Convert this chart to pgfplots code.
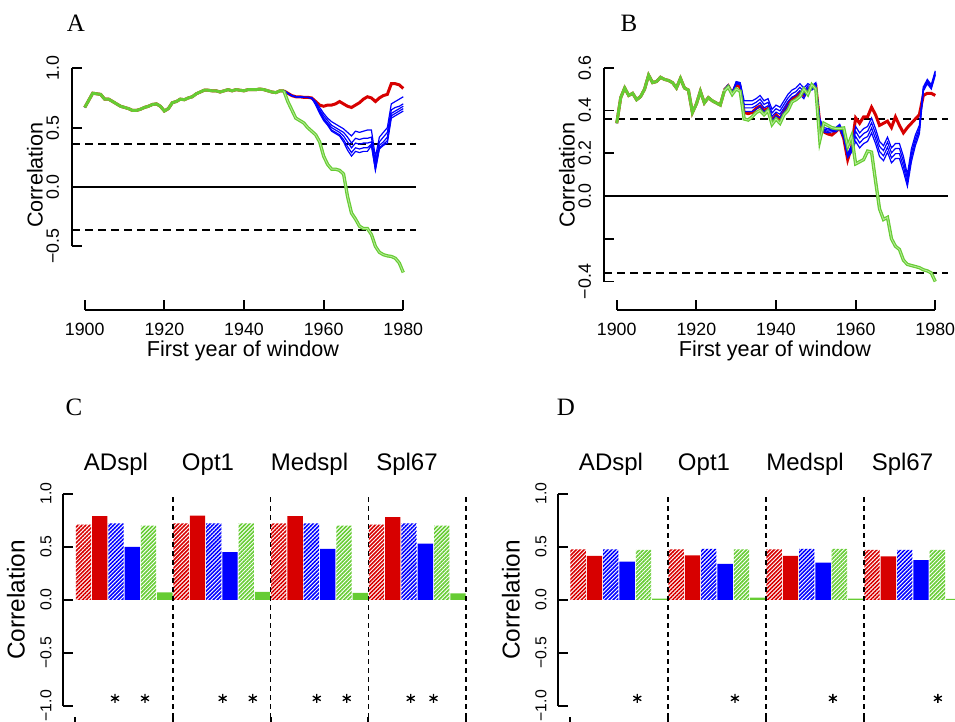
\documentclass[border=0pt]{standalone}
\usepackage{fontspec}
\setmainfont{Liberation Sans}
\newfontfamily\panelfont{Liberation Serif}
\usepackage{pgfplots}
\pgfplotsset{compat=1.18}
\usepackage{pgfplotstable}
\usetikzlibrary{patterns.meta}
\definecolor{cred}{RGB}{215,0,0}
\definecolor{cblue}{RGB}{0,0,255}
\definecolor{cgreen}{RGB}{102,204,51}
\definecolor{cgreenl}{RGB}{180,232,150}

% ---------- Panel A ----------
\pgfplotstableread{
year v
1900 0.67
1901 0.73
1902 0.79
1903 0.785
1904 0.78
1905 0.74
1906 0.74
1907 0.72
1908 0.70
1909 0.68
1910 0.67
1911 0.66
1912 0.645
1913 0.645
1914 0.655
1915 0.67
1916 0.68
1917 0.695
1918 0.70
1919 0.68
1920 0.64
1921 0.66
1922 0.71
1923 0.72
1924 0.74
1925 0.735
1926 0.75
1927 0.76
1928 0.785
1929 0.80
1930 0.815
1931 0.815
1932 0.81
1933 0.81
1934 0.80
1935 0.81
1936 0.82
1937 0.81
1938 0.82
1939 0.815
1940 0.81
1941 0.82
1942 0.82
1943 0.82
1944 0.825
1945 0.82
1946 0.81
1947 0.80
1948 0.795
1949 0.81
1950 0.81
}\Acommon

\pgfplotstableread{
year r b1 b2 b3 b4 b5 g
1950 0.81 0.81 0.81 0.81 0.81 0.81 0.81
1951 0.79 0.79 0.79 0.79 0.79 0.79 0.72
1952 0.77 0.77 0.77 0.77 0.77 0.77 0.65
1953 0.76 0.76 0.76 0.76 0.76 0.76 0.58
1954 0.76 0.76 0.76 0.76 0.76 0.76 0.56
1955 0.755 0.755 0.755 0.755 0.755 0.755 0.54
1956 0.755 0.755 0.755 0.755 0.755 0.755 0.50
1957 0.75 0.75 0.75 0.75 0.75 0.75 0.47
1958 0.72 0.72 0.71 0.70 0.70 0.69 0.44
1959 0.69 0.67 0.65 0.64 0.63 0.62 0.38
1960 0.68 0.62 0.60 0.58 0.57 0.56 0.26
1961 0.69 0.58 0.56 0.54 0.53 0.52 0.19
1962 0.69 0.55 0.52 0.50 0.48 0.47 0.15
1963 0.70 0.53 0.50 0.48 0.46 0.45 0.15
1964 0.72 0.51 0.48 0.46 0.44 0.43 0.14
1965 0.70 0.49 0.46 0.43 0.40 0.38 0.11
1966 0.68 0.46 0.42 0.38 0.34 0.31 -0.08
1967 0.67 0.43 0.37 0.33 0.29 0.26 -0.22
1968 0.69 0.47 0.41 0.37 0.33 0.30 -0.27
1969 0.71 0.46 0.40 0.36 0.32 0.29 -0.33
1970 0.74 0.47 0.41 0.37 0.33 0.30 -0.35
1971 0.76 0.48 0.41 0.37 0.33 0.30 -0.35
1972 0.75 0.48 0.42 0.38 0.36 0.35 -0.40
1973 0.72 0.25 0.20 0.17 0.15 0.14 -0.50
1974 0.75 0.42 0.38 0.35 0.33 0.32 -0.55
1975 0.77 0.46 0.42 0.38 0.36 0.35 -0.57
1976 0.78 0.50 0.46 0.42 0.39 0.37 -0.58
1977 0.87 0.70 0.65 0.62 0.60 0.58 -0.585
1978 0.87 0.72 0.67 0.64 0.62 0.60 -0.60
1979 0.86 0.74 0.68 0.66 0.64 0.62 -0.64
1980 0.83 0.76 0.70 0.68 0.66 0.64 -0.72
}\Apost

% ---------- Panel B ----------
\pgfplotstableread{
year v
1900 0.34
1901 0.46
1902 0.505
1903 0.47
1904 0.48
1905 0.45
1906 0.465
1907 0.50
1908 0.565
1909 0.53
1910 0.535
1911 0.555
1912 0.545
1913 0.54
1914 0.53
1915 0.505
1916 0.55
1917 0.505
1918 0.495
1919 0.39
1920 0.43
1921 0.49
1922 0.435
1923 0.46
1924 0.445
1925 0.435
1926 0.425
1927 0.49
}\Bcommon

\pgfplotstableread{
year r b1 b2 b3 b4 g
1927 0.495 0.50 0.497 0.493 0.49 0.49
1928 0.515 0.52 0.517 0.513 0.51 0.51
1929 0.48 0.485 0.482 0.478 0.475 0.475
1930 0.52 0.535 0.532 0.528 0.525 0.50
1931 0.51 0.53 0.527 0.523 0.52 0.49
1932 0.39 0.445 0.428 0.412 0.395 0.36
1933 0.385 0.445 0.428 0.412 0.395 0.355
1934 0.39 0.445 0.428 0.412 0.395 0.37
1935 0.41 0.455 0.438 0.422 0.405 0.39
1936 0.42 0.47 0.453 0.437 0.42 0.40
1937 0.40 0.445 0.428 0.412 0.395 0.38
1938 0.41 0.455 0.438 0.422 0.405 0.40
1939 0.35 0.405 0.388 0.372 0.355 0.335
1940 0.38 0.425 0.408 0.392 0.375 0.36
1941 0.36 0.415 0.398 0.382 0.365 0.34
1942 0.395 0.445 0.428 0.412 0.395 0.38
1943 0.43 0.475 0.458 0.442 0.425 0.40
1944 0.455 0.495 0.478 0.462 0.445 0.44
1945 0.465 0.505 0.488 0.472 0.455 0.45
1946 0.485 0.525 0.508 0.492 0.475 0.465
1947 0.47 0.505 0.488 0.472 0.455 0.50
1948 0.50 0.525 0.515 0.505 0.495 0.475
1949 0.505 0.515 0.51 0.50 0.495 0.52
1950 0.515 0.53 0.525 0.515 0.51 0.50
1951 0.34 0.36 0.353 0.347 0.34 0.26
1952 0.30 0.32 0.313 0.307 0.30 0.34
1953 0.29 0.315 0.308 0.302 0.295 0.33
1954 0.285 0.32 0.313 0.307 0.30 0.32
1955 0.30 0.32 0.313 0.307 0.30 0.315
1956 0.32 0.335 0.328 0.322 0.315 0.315
1957 0.27 0.29 0.283 0.277 0.27 0.318
1958 0.17 0.20 0.193 0.187 0.18 0.232
1959 0.23 0.235 0.225 0.215 0.205 0.28
1960 0.365 0.325 0.302 0.278 0.255 0.15
1961 0.34 0.295 0.272 0.248 0.225 0.16
1962 0.37 0.315 0.292 0.268 0.245 0.17
1963 0.37 0.325 0.302 0.278 0.255 0.21
1964 0.415 0.365 0.342 0.318 0.295 0.205
1965 0.38 0.315 0.292 0.268 0.245 0.07
1966 0.33 0.255 0.232 0.208 0.185 -0.06
1967 0.34 0.235 0.212 0.188 0.165 -0.11
1968 0.35 0.275 0.252 0.228 0.205 -0.10
1969 0.32 0.225 0.202 0.178 0.155 -0.20
1970 0.37 0.245 0.222 0.198 0.175 -0.235
1971 0.33 0.245 0.222 0.198 0.175 -0.25
1972 0.295 0.185 0.162 0.138 0.115 -0.30
1973 0.32 0.10 0.08 0.06 0.045 -0.32
1974 0.34 0.22 0.20 0.18 0.16 -0.325
1975 0.36 0.285 0.268 0.252 0.235 -0.33
1976 0.38 0.33 0.317 0.303 0.29 -0.335
1977 0.47 0.51 0.503 0.497 0.49 -0.345
1978 0.48 0.545 0.538 0.532 0.525 -0.35
1979 0.48 0.52 0.513 0.507 0.50 -0.36
1980 0.47 0.585 0.578 0.572 0.565 -0.40
}\Bpost

\tikzset{
  dashl/.style={black, line width=0.9pt, dash pattern=on 4pt off 2.5pt},
  vdash/.style={black, line width=0.8pt, dash pattern=on 2.5pt off 2pt},
}

\pgfplotsset{
  rstyle/.style={
    scale only axis, anchor=south west, clip=false,
    axis line style={draw=none},
    tick pos=left, tick align=inside,
    major tick length=5pt,
    every tick/.style={black, line width=0.9pt},
  },
  topstyle/.style={
    rstyle, width=172pt, height=123pt,
    xmin=1896.8, xmax=1983.2,
    xtick={1900,1920,1940,1960,1980},
    xticklabels={1900,1920,1940,1960,1980},
    xticklabel shift=3.2pt, yticklabel shift=3pt,
    tick label style={font=\fontsize{8.9}{10}\selectfont},
    yticklabel style={rotate=90, anchor=south},
  },
  barstyle/.style={
    rstyle, height=116.6pt,
    ymin=-1.2, ymax=1,
    ytick={-1,-0.5,0,0.5,1},
    yticklabels={−1.0,−0.5,0.0,0.5,1.0},
    xtick={0,6,12,18,24}, xticklabels={},
    yticklabel shift=2.2pt,
    tick label style={font=\fontsize{7.9}{9}\selectfont},
    yticklabel style={rotate=90, anchor=south},
  },
  hatch/.style={ybar, bar width=0.94, bar shift=0pt, draw=none,
    pattern={Lines[angle=45,distance=1.4pt,line width=0.8pt]}, pattern color=#1},
  solid bar/.style={ybar, bar width=0.94, bar shift=0pt, draw=none, fill=#1},
  redl/.style={cred, line width=1.5pt},
  bluel/.style={cblue, line width=0.6pt},
  greenc/.style={cgreen, line width=1.5pt},
  greenl/.style={cgreen, line width=0.6pt, double=cgreenl, double distance=0.45pt},
}

\begin{document}
\begin{tikzpicture}
\path[use as bounding box] (0,0) rectangle (477.5pt,361pt);

% ================= A =================
\begin{axis}[topstyle, at={(36pt,206pt)},
  ymin=-1.036, ymax=1.036,
  ytick={-0.5,0,0.5,1}, yticklabels={−0.5,0.0,0.5,1.0}]
\draw[dashl] (axis cs:1896.8,0.36) -- (axis cs:1983.2,0.36);
\draw[dashl] (axis cs:1896.8,-0.36) -- (axis cs:1983.2,-0.36);
\draw[black, line width=1pt] (axis cs:1896.8,0) -- (axis cs:1983.2,0);
\addplot[redl] table[x=year,y=v]{\Acommon};
\addplot[redl] table[x=year,y=r]{\Apost};
\addplot[bluel] table[x=year,y=v]{\Acommon};
\addplot[bluel] table[x=year,y=b1]{\Apost};
\addplot[bluel] table[x=year,y=b2]{\Apost};
\addplot[bluel] table[x=year,y=b3]{\Apost};
\addplot[bluel] table[x=year,y=b4]{\Apost};
\addplot[bluel] table[x=year,y=b5]{\Apost};
\addplot[greenc] table[x=year,y=v]{\Acommon};
\addplot[greenl] table[x=year,y=g]{\Apost};
\draw[black, line width=1pt] (axis cs:1896.8,-0.5) -- (axis cs:1896.8,1);
\draw[black, line width=1pt] (axis cs:1900,-1.036) -- (axis cs:1980,-1.036);
\end{axis}

% ================= B =================
\begin{axis}[topstyle, at={(302pt,206pt)},
  ymin=-0.533, ymax=0.617,
  ytick={-0.4,-0.2,0,0.2,0.4,0.6}, yticklabels={−0.4,,0.0,0.2,0.4,0.6}]
\draw[dashl] (axis cs:1896.8,0.36) -- (axis cs:1983.2,0.36);
\draw[dashl] (axis cs:1896.8,-0.36) -- (axis cs:1983.2,-0.36);
\draw[black, line width=1pt] (axis cs:1896.8,0) -- (axis cs:1983.2,0);
\addplot[redl] table[x=year,y=v]{\Bcommon};
\addplot[redl] table[x=year,y=r]{\Bpost};
\addplot[bluel] table[x=year,y=v]{\Bcommon};
\addplot[bluel] table[x=year,y=b1]{\Bpost};
\addplot[bluel] table[x=year,y=b2]{\Bpost};
\addplot[bluel] table[x=year,y=b3]{\Bpost};
\addplot[bluel] table[x=year,y=b4]{\Bpost};
\addplot[greenc] table[x=year,y=v]{\Bcommon};
\addplot[greenl] table[x=year,y=g]{\Bpost};
\draw[black, line width=1pt] (axis cs:1896.8,-0.4) -- (axis cs:1896.8,0.6);
\draw[black, line width=1pt] (axis cs:1900,-0.533) -- (axis cs:1980,-0.533);
\end{axis}

% ================= C =================
\begin{axis}[barstyle, at={(31.5pt,-2.5pt)}, width=204.8pt,
  xmin=-0.755, xmax=24.4]
\addplot[hatch=cred] coordinates {(0.5,0.71) (6.5,0.72) (12.5,0.72) (18.5,0.71)};
\addplot[solid bar=cred] coordinates {(1.5,0.79) (7.5,0.795) (13.5,0.79) (19.5,0.78)};
\addplot[hatch=cblue] coordinates {(2.5,0.72) (8.5,0.72) (14.5,0.72) (20.5,0.72)};
\addplot[solid bar=cblue] coordinates {(3.5,0.50) (9.5,0.45) (15.5,0.48) (21.5,0.53)};
\addplot[hatch=cgreen] coordinates {(4.5,0.70) (10.5,0.72) (16.5,0.70) (22.5,0.70)};
\addplot[solid bar=cgreen] coordinates {(5.5,0.07) (11.5,0.075) (17.5,0.065) (23.5,0.06)};
\addplot[only marks, mark=asterisk, mark size=2.3pt, mark options={black, line width=0.65pt}]
  coordinates {(2.44,-0.93) (4.28,-0.93) (9.05,-0.93) (10.9,-0.93) (14.83,-0.93) (16.67,-0.93) (20.6,-0.93) (22.0,-0.93)};
\draw[vdash] (axis cs:6,-1.2) -- (axis cs:6,1);
\draw[vdash] (axis cs:12,-1.2) -- (axis cs:12,1);
\draw[vdash] (axis cs:18,-1.2) -- (axis cs:18,1);
\draw[vdash] (axis cs:24,-1.2) -- (axis cs:24,1);
\draw[black, line width=1pt] (axis cs:-0.755,-1) -- (axis cs:-0.755,1);
\draw[black, line width=1pt] (axis cs:0,-1.2) -- (axis cs:24,-1.2);
\end{axis}

% ================= D =================
\begin{axis}[barstyle, at={(279pt,-2.5pt)}, width=205.2pt,
  xmin=-0.735, xmax=24.4]
\addplot[hatch=cred] coordinates {(0.5,0.475) (6.5,0.475) (12.5,0.475) (18.5,0.47)};
\addplot[solid bar=cred] coordinates {(1.5,0.415) (7.5,0.42) (13.5,0.415) (19.5,0.41)};
\addplot[hatch=cblue] coordinates {(2.5,0.475) (8.5,0.48) (14.5,0.48) (20.5,0.47)};
\addplot[solid bar=cblue] coordinates {(3.5,0.36) (9.5,0.34) (15.5,0.35) (21.5,0.375)};
\addplot[hatch=cgreen] coordinates {(4.5,0.47) (10.5,0.475) (16.5,0.48) (22.5,0.47)};
\addplot[solid bar=cgreen] coordinates {(5.5,0.01) (11.5,0.02) (17.5,0.01) (23.5,0.008)};
\addplot[only marks, mark=asterisk, mark size=2.3pt, mark options={black, line width=0.65pt}]
  coordinates {(4.12,-0.93) (10.1,-0.93) (16.1,-0.93) (22.53,-0.93)};
\draw[vdash] (axis cs:6,-1.2) -- (axis cs:6,1);
\draw[vdash] (axis cs:12,-1.2) -- (axis cs:12,1);
\draw[vdash] (axis cs:18,-1.2) -- (axis cs:18,1);
\draw[vdash] (axis cs:24,-1.2) -- (axis cs:24,1);
\draw[black, line width=1pt] (axis cs:-0.735,-1) -- (axis cs:-0.735,1);
\draw[black, line width=1pt] (axis cs:0,-1.2) -- (axis cs:24,-1.2);
\end{axis}

% ================= text =================
\begin{scope}[x=0.5pt,y=0.5pt]
\node[font=\panelfont\fontsize{12.5}{14}\selectfont] at (76,699) {A};
\node[font=\panelfont\fontsize{12.5}{14}\selectfont] at (629,699) {B};
\node[font=\panelfont\fontsize{12.5}{14}\selectfont] at (74,315) {C};
\node[font=\panelfont\fontsize{12.5}{14}\selectfont] at (566,315) {D};
\node[rotate=90, font=\fontsize{10.8}{12}\selectfont] at (35,547) {Correlation};
\node[rotate=90, font=\fontsize{10.8}{12}\selectfont] at (567,547) {Correlation};
\node[anchor=base, font=\fontsize{10.8}{12}\selectfont] at (243,365) {First year of window};
\node[anchor=base, font=\fontsize{10.8}{12}\selectfont] at (775,365) {First year of window};
\node[rotate=90, font=\fontsize{12.2}{14}\selectfont] at (16,122) {Correlation};
\node[rotate=90, font=\fontsize{12.2}{14}\selectfont] at (511,122) {Correlation};
\node[anchor=base, font=\fontsize{12}{14}\selectfont] at (116,251) {ADspl};
\node[anchor=base, font=\fontsize{12}{14}\selectfont] at (208,251) {Opt1};
\node[anchor=base, font=\fontsize{12}{14}\selectfont] at (309.5,251) {Medspl};
\node[anchor=base, font=\fontsize{12}{14}\selectfont] at (407,251) {Spl67};
\node[anchor=base, font=\fontsize{12}{14}\selectfont] at (611,251) {ADspl};
\node[anchor=base, font=\fontsize{12}{14}\selectfont] at (704,251) {Opt1};
\node[anchor=base, font=\fontsize{12}{14}\selectfont] at (805,251) {Medspl};
\node[anchor=base, font=\fontsize{12}{14}\selectfont] at (902.5,251) {Spl67};
\end{scope}
\end{tikzpicture}
\end{document}
